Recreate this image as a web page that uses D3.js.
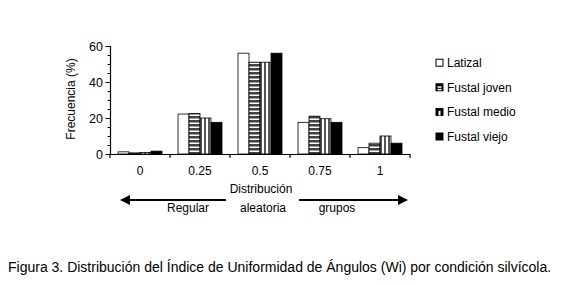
<!DOCTYPE html>
<html>
<head>
<meta charset="utf-8">
<script src="https://cdn.jsdelivr.net/npm/d3@7"></script>
<style>
  body { margin: 0; background: #fff; }
  text { font-family: "Liberation Sans", Arial, sans-serif; fill: #000; }
</style>
</head>
<body>
<script>
// datos
var categorias = ["0", "0.25", "0.5", "0.75", "1"];
var series = ["Latizal", "Fustal joven", "Fustal medio", "Fustal viejo"];
var latizal = [1.2, 22.2, 56, 17.6, 3.5];
var fustalJoven = [0.6, 22.5, 51, 21, 6];
var fustalMedio = [0.9, 20, 51, 19.6, 10];
var fustalViejo = [1.6, 17.6, 56, 17.6, 6];
var yTicks = [0, 20, 40, 60];
var valores = [latizal, fustalJoven, fustalMedio, fustalViejo];

var svg = d3.select("body")
    .append("svg")
    .attr("width", 564)
    .attr("height", 285);

// patrones de relleno
var defs = svg.append("defs");
var pH = defs.append("pattern").attr("id", "rayasH")
    .attr("patternUnits", "userSpaceOnUse").attr("width", 4).attr("height", 4);
pH.append("rect").attr("width", 4).attr("height", 4).attr("fill", "#fff");
pH.append("rect").attr("width", 4).attr("height", 2.5).attr("fill", "#444");
var pV = defs.append("pattern").attr("id", "rayasV")
    .attr("patternUnits", "userSpaceOnUse").attr("width", 4).attr("height", 4);
pV.append("rect").attr("width", 4).attr("height", 4).attr("fill", "#fff");
pV.append("rect").attr("width", 2).attr("height", 4).attr("fill", "#555");

var rellenos = ["#fff", "url(#rayasH)", "url(#rayasV)", "#000"];

// escalas
var x = d3.scaleBand()
    .domain(categorias)
    .range([110, 410])
    .paddingInner(0.267)
    .paddingOuter(0.1335);
var xs = d3.scaleBand()
    .domain(series)
    .range([0, x.bandwidth()]);
var y = d3.scaleLinear()
    .domain([0, 60])
    .range([154, 46]);

// barras
series.forEach(function (s, i) {
    svg.append("g").selectAll("rect")
        .data(valores[i])
        .enter()
        .append("rect")
        .attr("x", function (d, j) { return x(categorias[j]) + xs(s); })
        .attr("y", function (d) { return y(d); })
        .attr("width", xs.bandwidth())
        .attr("height", function (d) { return y(0) - y(d); })
        .attr("fill", rellenos[i])
        .attr("stroke", "#000")
        .attr("stroke-width", 0.8);
});

// eje y con marcas menores
var gy = svg.append("g").attr("transform", "translate(110,0)");
gy.call(d3.axisLeft(y).tickValues(d3.range(0, 61, 5)).tickSize(2.5).tickFormat(""));
gy.call(function (g) {
    g.selectAll(".tick").filter(function (d) { return d % 20 === 0; })
        .select("line").attr("x2", -4.5);
});
gy.append("g").call(d3.axisLeft(y).tickValues(yTicks).tickSize(0).tickPadding(7))
    .call(function (g) { g.select(".domain").remove(); })
    .selectAll("text").attr("font-size", 12.5).attr("font-family", "Liberation Sans, Arial, sans-serif").attr("fill", "#000");
gy.selectAll(".domain").attr("stroke", "#000").attr("stroke-width", 1.2);
gy.selectAll("line").attr("stroke", "#000");

// eje x: etiquetas en el centro y marcas en los limites
var gx = svg.append("g").attr("transform", "translate(0,154)");
gx.call(d3.axisBottom(x).tickSize(0).tickPadding(12))
    .selectAll("text").attr("font-size", 12).attr("font-family", "Liberation Sans, Arial, sans-serif").attr("fill", "#000");
gx.select(".domain").attr("stroke", "#000").attr("stroke-width", 1.2);
var limites = categorias.map(function (c) { return x(c) - x.step() * x.paddingInner() / 2; });
limites.push(x.range()[1]);
gx.selectAll(".lim")
    .data(limites)
    .enter()
    .append("line")
    .attr("x1", function (d) { return d; })
    .attr("x2", function (d) { return d; })
    .attr("y1", 0)
    .attr("y2", 4)
    .attr("stroke", "#000")
    .attr("stroke-width", 1.2);

// titulo eje y
svg.append("text")
    .attr("transform", "translate(75,99) rotate(-90)")
    .attr("text-anchor", "middle")
    .attr("font-size", 12)
    .text("Frecuencia (%)");

// leyenda
var leg = svg.append("g").selectAll("g")
    .data(series)
    .enter()
    .append("g")
    .attr("transform", function (d, i) { return "translate(436," + (62.7 + i * 24.6) + ")"; });
leg.append("rect")
    .attr("x", 0)
    .attr("y", -3.5)
    .attr("width", 7)
    .attr("height", 7)
    .attr("fill", function (d, i) { return i === 0 ? "#fff" : "#000"; })
    .attr("stroke", "#000")
    .attr("stroke-width", 1);
leg.filter(function (d, i) { return i === 1; }).append("rect")
    .attr("x", 1.5).attr("y", -1).attr("width", 4).attr("height", 1.5).attr("fill", "#fff");
leg.filter(function (d, i) { return i === 1; }).append("rect")
    .attr("x", 1.5).attr("y", 1.5).attr("width", 4).attr("height", 1.5).attr("fill", "#fff");
leg.filter(function (d, i) { return i === 2; }).append("rect")
    .attr("x", 2.5).attr("y", -1).attr("width", 2).attr("height", 4.5).attr("fill", "#fff");
leg.append("text")
    .attr("x", 11)
    .attr("y", 4.3)
    .attr("font-size", 12)
    .text(function (d) { return d; });

// flechas de distribucion
var marca = defs.append("marker").attr("id", "punta")
    .attr("viewBox", "0 0 10 10").attr("refX", 8).attr("refY", 5)
    .attr("markerWidth", 4.5).attr("markerHeight", 4.5).attr("orient", "auto")
    .attr("markerUnits", "strokeWidth");
marca.append("path").attr("d", "M0,0 L10,5 L0,10 Z").attr("fill", "#000");
svg.append("line")
    .attr("x1", 226).attr("y1", 200).attr("x2", 122).attr("y2", 200)
    .attr("stroke", "#000").attr("stroke-width", 2.2).attr("marker-end", "url(#punta)");
svg.append("line")
    .attr("x1", 299).attr("y1", 200).attr("x2", 406).attr("y2", 200)
    .attr("stroke", "#000").attr("stroke-width", 2.2).attr("marker-end", "url(#punta)");

var notas = [
    { t: "Distribución", x: 261, y: 193 },
    { t: "Regular", x: 188, y: 211.5 },
    { t: "aleatoria", x: 263, y: 211.5 },
    { t: "grupos", x: 337, y: 211.5 }
];
svg.selectAll(".nota")
    .data(notas)
    .enter()
    .append("text")
    .attr("x", function (d) { return d.x; })
    .attr("y", function (d) { return d.y; })
    .attr("text-anchor", "middle")
    .attr("font-size", 12)
    .text(function (d) { return d.t; });

// pie de figura
svg.append("text")
    .attr("x", 8)
    .attr("y", 272)
    .attr("font-size", 14)
    .text("Figura 3. Distribución del Índice de Uniformidad de Ángulos (Wi) por condición silvícola.");
</script>
</body>
</html>
